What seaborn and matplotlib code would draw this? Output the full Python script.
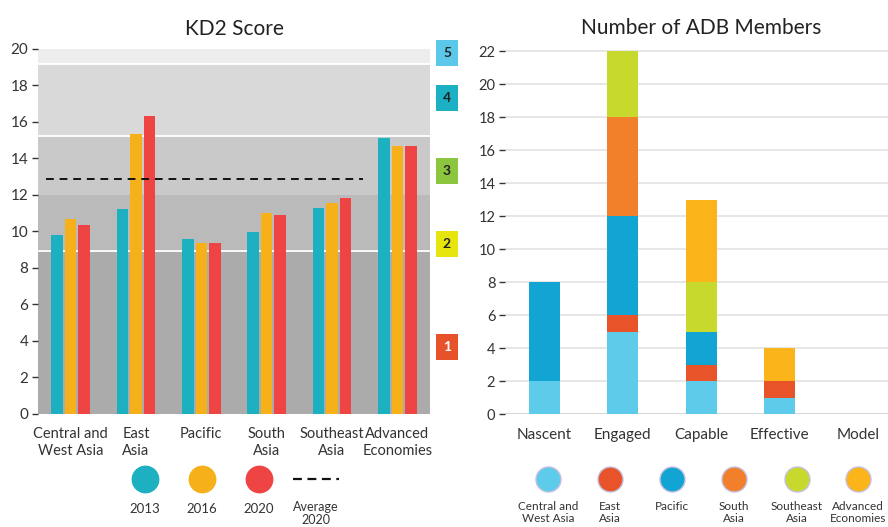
import matplotlib
matplotlib.use("Agg")
import matplotlib.pyplot as plt
from matplotlib.lines import Line2D
import seaborn as sns
import pandas as pd
import numpy as np

# ---------------- data ----------------
regions = ["Central and\nWest Asia", "East\nAsia", "Pacific", "South\nAsia",
           "Southeast\nAsia", "Advanced\nEconomies"]
years = ["2013", "2016", "2020"]
score_2013 = [9.8, 11.2, 9.55, 9.95, 11.3, 15.1]
score_2016 = [10.65, 15.35, 9.35, 11.0, 11.55, 14.7]
score_2020 = [10.35, 16.3, 9.35, 10.9, 11.85, 14.7]
average_2020 = 12.85
band_edges = [0, 8.9, 12, 15.2, 19.2, 20]
band_labels = ["1", "2", "3", "4", "5"]

stages = ["Nascent", "Engaged", "Capable", "Effective", "Model"]
member_regions = ["Central and\nWest Asia", "East\nAsia", "Pacific", "South\nAsia",
                  "Southeast\nAsia", "Advanced\nEconomies"]
cwa = [2, 5, 2, 1, 0]
east = [0, 1, 1, 1, 0]
pacific = [6, 6, 2, 0, 0]
south = [0, 6, 0, 0, 0]
southeast = [0, 4, 3, 0, 0]
advanced = [0, 0, 5, 2, 0]

# ---------------- style ----------------
year_colors = ["#1cb0c0", "#f5b01a", "#ef4444"]
band_colors = ["#ababab", "#bababa", "#c9c9c9", "#d9d9d9", "#ededed"]
badge_colors = ["#e8522a", "#e6e60e", "#8cc63f", "#1bb0c4", "#5bc8ea"]
badge_text = ["white", "#222222", "#222222", "#222222", "#222222"]
member_colors = ["#5ecbeb", "#e8532a", "#12a5d3", "#f27f2a", "#c8d92e", "#fbb41a"]
txt = "#333333"

sns.set_theme(style="white")
plt.rcParams["font.family"] = ["Lato", "DejaVu Sans"]
plt.rcParams["text.color"] = txt

W, H = 888, 527
fig = plt.figure(figsize=(W / 100, H / 100), dpi=100)

def fx(x):
    return x / W

def fy(y):
    return 1 - y / H

# ---------------- left chart ----------------
ax1 = fig.add_axes([fx(38), fy(413.5), fx(430) - fx(38), fy(49) - fy(413.5)])
df1 = pd.DataFrame({
    "region": regions * 3,
    "year": sum([[y] * len(regions) for y in years], []),
    "score": score_2013 + score_2016 + score_2020,
})
for lo, hi, c in zip(band_edges[:-1], band_edges[1:], band_colors):
    ax1.axhspan(lo, hi, color=c, lw=0, zorder=0)
for v in [band_edges[1], band_edges[3], band_edges[4]]:
    ax1.axhline(v, color="white", lw=1.3, zorder=0.5)

sns.barplot(data=df1, x="region", y="score", hue="year", order=regions,
            hue_order=years, palette=year_colors, width=0.62, gap=0.15,
            saturation=1, legend=False, ax=ax1, zorder=2, linewidth=0)
ax1.hlines(average_2020, -0.38, 4.47, colors="#111111", lw=1.4,
           linestyles=(0, (4, 3)), zorder=3)
ax1.set_ylim(0, 20)
ax1.set_xlim(-0.5, len(regions) - 0.5)
ax1.set_yticks(range(0, 21, 2))
ax1.set_xlabel("")
ax1.set_ylabel("")
for s in ax1.spines.values():
    s.set_visible(False)
ax1.tick_params(axis="y", left=True, length=4, width=1, color=txt, labelsize=11,
                labelcolor=txt, pad=3)
ax1.tick_params(axis="x", bottom=False, labelsize=10.5, labelcolor=txt, pad=4)
ax1.set_title("KD2 Score", fontsize=15, color="#222222", pad=10)

# level badges
badge_y = [347, 244, 171, 98, 53]
for lab, c, tc, yy in zip(band_labels, badge_colors, badge_text, badge_y):
    fig.text(fx(447), fy(yy), lab, ha="center", va="center", fontsize=10,
             fontweight="bold", color=tc,
             bbox=dict(boxstyle="square,pad=0.5", fc=c, ec="none"))

# left legend
for xx, c, lab in zip([145, 202, 259], year_colors, years):
    fig.add_artist(Line2D([fx(xx)], [fy(479)], marker="o", markersize=19,
                          markerfacecolor=c, markeredgecolor=c, linestyle="none"))
    fig.text(fx(xx), fy(509), lab, ha="center", va="center", fontsize=9.5, color=txt)
fig.add_artist(Line2D([fx(293), fx(339)], [fy(479), fy(479)], color="#111111",
                      lw=1.6, linestyle=(0, (4, 2.5))))
fig.text(fx(316), fy(501), "Average\n2020", ha="center", va="top", fontsize=9,
         color=txt, linespacing=1.1)

# ---------------- right chart ----------------
ax2 = fig.add_axes([fx(505), fy(414.3), fx(897.5) - fx(505), fy(47.8) - fy(414.3)])
for v in range(0, 23, 2):
    ax2.axhline(v, color="#e3e3e3" if v else "#cfcfcf", lw=1.2, zorder=0)
bottom = np.zeros(len(stages))
for vals, c in zip([cwa, east, pacific, south, southeast, advanced], member_colors):
    sns.barplot(x=stages, y=vals, order=stages, color=c, bottom=bottom,
                width=0.4, saturation=1, ax=ax2, zorder=2, linewidth=0)
    bottom = bottom + np.array(vals)
ax2.set_ylim(0, 22.2)
ax2.set_xlim(-0.5, len(stages) - 0.5)
ax2.set_yticks(range(0, 23, 2))
for s in ax2.spines.values():
    s.set_visible(False)
ax2.tick_params(axis="y", left=True, length=4, width=1, color=txt, labelsize=10.5,
                labelcolor=txt, pad=3)
ax2.tick_params(axis="x", bottom=False, labelsize=11, labelcolor=txt, pad=4)
ax2.set_xlabel("")
ax2.set_ylabel("")
ax2.set_title("Number of ADB Members", fontsize=15, color="#222222", pad=10)

# right legend
for xx, c, lab in zip([548, 610, 672, 734, 797, 858], member_colors, member_regions):
    fig.add_artist(Line2D([fx(xx)], [fy(479)], marker="o", markersize=18,
                          markerfacecolor=c, markeredgecolor="#c4c0e0",
                          markeredgewidth=1, linestyle="none"))
    fig.text(fx(xx), fy(501), lab, ha="center", va="top", fontsize=8.5,
             color=txt, linespacing=1.1)

fig.savefig("out.png", dpi=100)
